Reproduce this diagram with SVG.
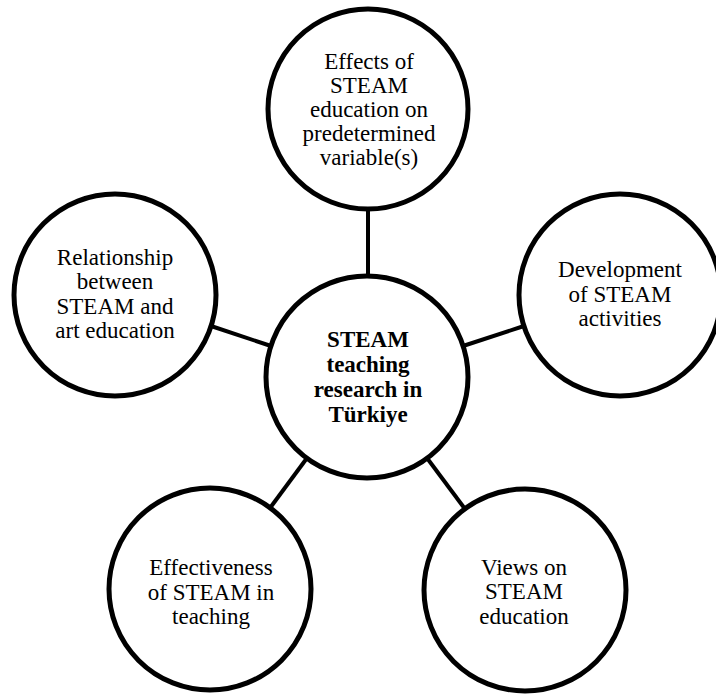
<svg xmlns="http://www.w3.org/2000/svg" width="716" height="697" viewBox="0 0 716 697">
  <style>
    .node circle { fill: #ffffff; stroke: #000000; stroke-width: 5; }
    .node text { font-family: "Liberation Serif", "Times New Roman", serif; font-size: 23px; fill: #000000; text-anchor: middle; }
    .node.hub text { font-weight: bold; }
    .links line { stroke: #000000; stroke-width: 4; }
  </style>
  <rect width="716" height="697" fill="#ffffff"/>

  <!-- spokes from the hub to each topic -->
  <g id="connectors" class="links">
    <line x1="368" y1="207" x2="368" y2="278"/>
    <line x1="271" y1="346" x2="211" y2="326"/>
    <line x1="463" y1="346" x2="524" y2="326"/>
    <line x1="307" y1="458" x2="270" y2="508"/>
    <line x1="427" y1="458" x2="465" y2="509"/>
  </g>

  <g id="node-hub" class="node hub">
    <circle cx="367" cy="377" r="101"/>
    <text x="368" y="347">STEAM</text>
    <text x="368" y="372">teaching</text>
    <text x="368" y="397">research in</text>
    <text x="368" y="422">Türkiye</text>
  </g>

  <g id="node-effects" class="node">
    <circle cx="368" cy="109" r="100"/>
    <text x="369" y="69">Effects of</text>
    <text x="369" y="93">STEAM</text>
    <text x="369" y="117">education on</text>
    <text x="369" y="141">predetermined</text>
    <text x="369" y="165">variable(s)</text>
  </g>

  <g id="node-art" class="node">
    <circle cx="115" cy="295" r="101"/>
    <text x="115" y="265">Relationship</text>
    <text x="115" y="289">between</text>
    <text x="115" y="314">STEAM and</text>
    <text x="115" y="338">art education</text>
  </g>

  <g id="node-development" class="node">
    <circle cx="620" cy="295" r="101"/>
    <text x="620" y="277">Development</text>
    <text x="620" y="302">of STEAM</text>
    <text x="620" y="326">activities</text>
  </g>

  <g id="node-effectiveness" class="node">
    <circle cx="210" cy="589" r="101"/>
    <text x="211" y="575">Effectiveness</text>
    <text x="211" y="600">of STEAM in</text>
    <text x="211" y="624">teaching</text>
  </g>

  <g id="node-views" class="node">
    <circle cx="525" cy="590" r="101"/>
    <text x="524" y="575">Views on</text>
    <text x="524" y="599">STEAM</text>
    <text x="524" y="624">education</text>
  </g>
</svg>
